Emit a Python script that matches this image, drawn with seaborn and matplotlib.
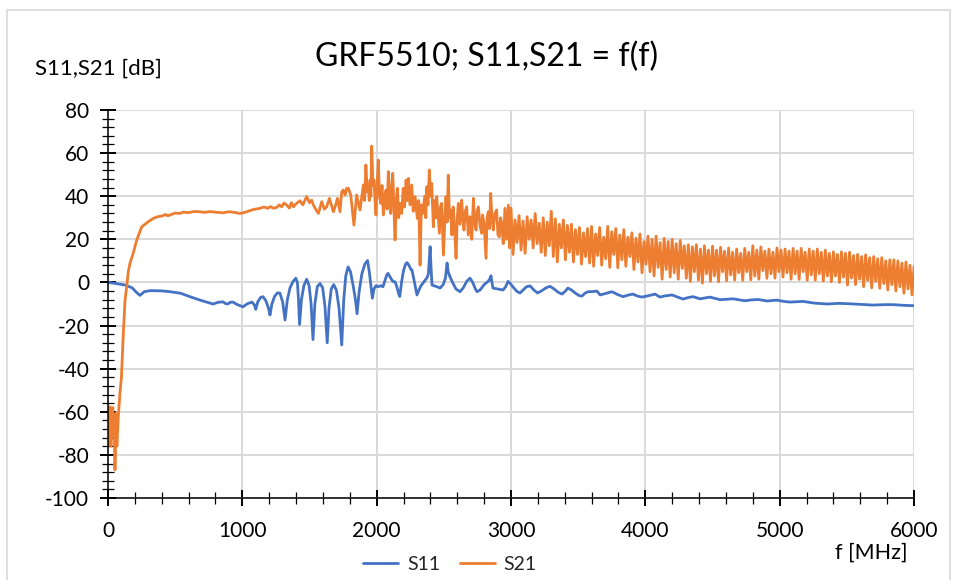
import matplotlib
matplotlib.use("Agg")
import numpy as np
import pandas as pd
import matplotlib.pyplot as plt
import seaborn as sns
from matplotlib.ticker import MultipleLocator
from matplotlib.patches import Rectangle
from matplotlib.lines import Line2D

TITLE = "GRF5510; S11,S21 = f(f)"
Y_LABEL = "S11,S21 [dB]"
X_LABEL = "f [MHz]"
SERIES = ["S11", "S21"]
COLORS = {"S11": "#4472C4", "S21": "#ED7D31"}

# ---- S11 ----
s11_freq = [0, 60, 127, 180, 210, 238, 270, 313, 400, 462, 540, 610, 685, 782, 820, 856,
            875, 893, 910, 930, 960, 1005, 1040, 1072, 1090, 1100, 1115, 1135, 1154, 1175,
            1195, 1206, 1220, 1240, 1262, 1280, 1300, 1318, 1335, 1355, 1378, 1398, 1410,
            1418, 1426, 1440, 1458, 1479, 1497, 1512, 1526, 1540, 1558, 1578, 1598, 1615,
            1632, 1645, 1662, 1680, 1700, 1720, 1740, 1755, 1770, 1787, 1805, 1825, 1842,
            1854, 1870, 1890, 1912, 1932, 1945, 1958, 1968, 1980, 1995, 2010, 2030, 2047,
            2060, 2075, 2085, 2100, 2120, 2137, 2150, 2165, 2172, 2185, 2200, 2215, 2226,
            2240, 2255, 2263, 2275, 2290, 2300, 2315, 2330, 2345, 2360, 2375, 2385, 2393,
            2398, 2404, 2412, 2440, 2472, 2495, 2512, 2520, 2524, 2532, 2546, 2565, 2590,
            2620, 2645, 2670, 2695, 2715, 2735, 2747, 2770, 2800, 2830, 2845, 2851, 2858,
            2866, 2900, 2941, 2960, 2978, 2995, 3020, 3045, 3067, 3090, 3115, 3142, 3170,
            3198, 3230, 3260, 3290, 3320, 3350, 3380, 3405, 3424, 3450, 3480, 3510, 3529,
            3550, 3574, 3600, 3640, 3663, 3700, 3752, 3790, 3834, 3870, 3908, 3940, 3975,
            4020, 4072, 4109, 4150, 4199, 4240, 4281, 4320, 4355, 4407, 4481, 4556, 4600,
            4653, 4700, 4742, 4790, 4839, 4906, 4980, 5030, 5077, 5174, 5260, 5353, 5440,
            5524, 5610, 5695, 5780, 5844, 5920, 6000]
s11_db = [0.0, -0.5, -1.2, -2.5, -4.5, -6.0, -4.3, -3.8, -3.9, -4.3, -5.0, -6.6, -8.2,
          -10.0, -9.2, -9.0, -9.8, -10.0, -9.2, -9.1, -10.2, -11.3, -9.8, -9.1, -10.5,
          -12.5, -9.0, -7.0, -6.6, -8.5, -12.0, -15.1, -10.0, -6.5, -4.8, -5.0, -9.0,
          -17.4, -8.0, -2.5, 0.5, 2.0, 0.0, -8.0, -19.5, -8.0, -1.5, 1.5, -1.5, -10.0,
          -26.5, -10.0, -2.0, -0.5, -2.5, -11.0, -28.0, -12.0, -3.0, -1.0, -3.5, -12.0,
          -29.0, -8.0, 3.0, 7.2, 5.0, -1.5, -8.0, -14.5, -4.0, 4.0, 8.5, 10.2, 5.0, -2.0,
          -7.3, -3.0, -1.5, -2.0, -1.5, -2.0, 0.5, 3.5, 4.2, 2.5, 0.5, 0.3, -2.0, -5.5,
          -6.5, 0.0, 5.5, 8.5, 9.2, 8.0, 6.0, 5.8, 2.0, -3.0, -5.8, -3.5, -1.5, -0.3, 1.0,
          2.2, 4.0, 12.0, 16.6, 8.0, -1.2, -1.8, -2.6, -1.0, 2.0, 7.0, 9.0, 5.0, 2.6, 0.0,
          -3.0, -4.3, -2.5, 0.5, 2.0, 0.0, -3.0, -4.3, -3.5, -1.0, 0.5, 2.0, 3.1, 0.0,
          -2.6, -3.0, -3.5, -2.0, 0.5, -0.5, -2.5, -4.2, -4.9, -3.5, -2.0, -1.6, -3.5,
          -4.9, -3.8, -2.5, -1.8, -3.0, -4.5, -5.4, -4.0, -2.6, -3.5, -5.0, -6.2, -6.3,
          -5.0, -4.3, -4.3, -4.0, -5.8, -5.2, -4.3, -5.5, -6.6, -5.9, -5.4, -6.3, -6.8,
          -6.2, -5.4, -6.8, -6.2, -5.8, -6.8, -7.7, -7.0, -6.6, -7.6, -6.8, -8.0, -7.8,
          -7.6, -8.1, -8.5, -8.1, -7.9, -8.6, -8.2, -8.8, -9.1, -8.8, -9.6, -10.0, -9.7,
          -9.9, -10.2, -10.5, -10.3, -10.3, -10.6, -10.8]

# ---- S21 low / mid frequency part ----
s21_lf_freq = [0, 8, 15, 22, 30, 36, 40, 46, 52, 58, 60, 66, 77, 89, 100, 114, 127,
               139, 151, 164, 188, 214, 251, 300, 337, 370, 400, 430, 445, 462, 500, 536,
               560, 600, 640, 685, 720, 760, 800, 858, 900, 930, 960, 983, 1010, 1033,
               1080, 1132, 1160, 1190, 1210, 1231, 1256, 1275, 1293, 1310, 1330,
               1350, 1365, 1380, 1400, 1429, 1450, 1479, 1500, 1516, 1529, 1546, 1566, 1591,
               1610, 1628, 1648, 1665, 1678, 1695, 1708, 1727, 1740, 1752, 1765, 1777,
               1789, 1807, 1831, 1851, 1876, 1901, 1910, 1920, 1930, 1938, 1945, 1951,
               1957, 1963, 1972, 1980, 1988, 1995, 2003, 2012, 2021, 2030, 2040, 2050,
               2060, 2070, 2078, 2087, 2096, 2105, 2112, 2120, 2128, 2137, 2146, 2154,
               2164, 2174, 2186, 2198, 2208, 2219, 2228, 2236, 2248, 2261, 2272, 2286,
               2295, 2303, 2313, 2323, 2333, 2343, 2358, 2366, 2373, 2382, 2392, 2400,
               2410, 2416, 2422, 2430, 2440, 2447, 2455, 2467, 2475, 2484, 2497, 2508,
               2516, 2525, 2533, 2542, 2551, 2560, 2570, 2580, 2591, 2600, 2608, 2620,
               2633, 2642, 2650, 2660, 2670, 2682, 2695, 2708, 2720, 2730, 2740, 2748,
               2757, 2770, 2782, 2788, 2800, 2814, 2822, 2831, 2840, 2849, 2858, 2868,
               2880, 2893, 2903, 2913, 2922, 2931, 2942, 2955, 2967, 2980, 2990]
s21_lf_db = [-60, -75, -57.7, -76, -62, -58, -71.6, -62, -87, -65, -60.6, -76, -62,
             -51.4, -44, -23.6, -8.2, -2, 5, 9, 13.6, 19.7, 25.8, 28.2, 29.7, 30.5, 30.8,
             31.5, 30.9, 31.3, 32.2, 32.0, 32.6, 32.4, 32.9, 32.8, 32.5, 32.9, 32.6, 32.3,
             32.8, 32.6, 32.3, 32.0, 32.4, 32.8, 33.8, 34.4, 35.0, 34.4, 35.2, 34.4, 34.8,
             36.0, 35.1, 36.8, 35.9, 34.5, 37.0, 35.1, 36.5, 37.9, 36.0, 39.8, 37.0, 38.2,
             35.9, 34.0, 32.0, 37.5, 34.0, 35.1, 39.0, 35.5, 32.8, 36.0, 39.0, 32.8, 42.0,
             42.9, 40.5, 43.7, 43.7, 40.6, 26.6, 40.6, 33.6, 45.2, 38.0, 54.5, 42.0, 45.2,
             38.0, 47.5, 40.0, 63.3, 45.0, 47.5, 38.0, 31.3, 45.0, 56.8, 40.0, 36.7, 45.0,
             31.3, 40.0, 42.9, 34.0, 51.4, 40.0, 32.0, 44.0, 50.6, 35.0, 19.7, 38.0, 43.7,
             30.0, 36.7, 32.0, 43.7, 35.0, 47.5, 38.0, 48.3, 36.0, 45.2, 33.0, 39.8, 34.0,
             29.7, 38.0, 8.0, 36.0, 32.0, 40.0, 30.0, 44.4, 36.0, 52.2, 40.0, 46.0, 36.0,
             25.8, 38.0, 30.0, 39.8, 33.0, 22.8, 35.0, 36.7, 12.7, 30.0, 39.8, 28.0, 49.8,
             30.0, 33.6, 22.0, 35.0, 25.1, 11.2, 30.0, 36.7, 27.0, 38.2, 29.0, 24.3, 33.0,
             35.1, 22.0, 30.5, 20.0, 39.0, 28.0, 24.3, 33.0, 35.1, 26.0, 22.8, 31.3, 27.0,
             11.2, 30.0, 32.8, 25.0, 41.3, 30.0, 24.3, 32.0, 33.6, 22.0, 21.2, 30.0, 27.4,
             18.0, 34.4, 20.0, 35.9, 16.0]

# ---- S21 high frequency part: sweep points every 15 MHz from 3000 to 6000 ----
s21_hf_freq = list(range(3000, 6001, 15))
s21_hf_db = [
    34.5, 13.0, 29.0, 18.5, 31.0, 15.0, 28.5, 13.5, 30.5, 20.0, 29.0, 16.0, 32.0, 18.0, 27.5, 14.0, 30.0, 12.5, 28.0, 17.0,
    33.0, 12.0, 29.5, 9.5, 27.0, 16.0, 29.0, 10.5, 26.5, 14.0, 27.0, 9.5, 24.5, 13.0, 25.5, 8.5, 23.0, 12.0, 25.0, 9.0,
    26.0, 7.5, 22.5, 12.5, 25.5, 8.0, 21.0, 11.0, 26.0, 7.0, 23.5, 13.0, 25.0, 6.8, 22.0, 10.5, 24.5, 7.5, 21.0, 12.0,
    23.0, 6.0, 20.5, 9.5, 22.5, 4.5, 19.0, 8.5, 21.5, 5.0, 20.0, 3.0, 21.5, 7.0, 18.5, 1.5, 20.5, 6.0, 19.0, 2.5,
    20.0, 4.5, 18.0, 1.5, 19.5, 6.5, 17.0, 2.0, 17.5, 0.5, 16.5, 5.0, 17.5, 1.0, 15.5, -0.3, 17.0, 4.0, 15.0, 0.5,
    16.8, 3.0, 15.0, 0.3, 16.3, 5.0, 14.5, 0.8, 16.0, 3.5, 14.0, 1.1, 15.5, 4.5, 13.5, 1.0, 15.8, 5.0, 14.0, 1.2,
    17.0, 3.0, 15.0, 1.5, 16.5, 5.5, 14.5, 1.9, 15.5, 4.0, 14.0, 2.0, 16.0, 5.0, 15.0, 2.5, 15.5, 4.5, 14.5, 1.5,
    15.8, 4.0, 14.5, 1.4, 15.8, 5.0, 14.0, 1.0, 15.5, 3.5, 14.5, 1.1, 15.5, 4.0, 14.0, 0.7, 15.0, 3.0, 13.5, 0.3,
    14.2, 3.0, 13.0, 0.0, 14.2, 2.5, 13.5, -1.2, 14.0, 2.0, 12.5, -1.0, 13.0, 1.5, 12.0, -2.0, 12.8, 1.0, 11.5, -2.5,
    12.0, 0.5, 11.0, -2.7, 11.5, -0.5, 10.0, -3.5, 10.5, -1.0, 10.5, -4.0, 10.0, -2.0, 9.0, -5.0, 9.5, -3.0, 8.0, -5.8,
    7.3]

X_MAJOR, X_MINOR = 1000, 200
Y_MAJOR, Y_MINOR = 20, 4

# ---- build data table ----
df = pd.concat([
    pd.DataFrame({"f": s11_freq, "dB": s11_db, "series": "S11"}),
    pd.DataFrame({"f": s21_lf_freq + s21_hf_freq, "dB": s21_lf_db + s21_hf_db, "series": "S21"}),
], ignore_index=True)

sns.set_style("white")
plt.rcParams["font.family"] = ["Lato", "DejaVu Sans"]
plt.rcParams["axes.unicode_minus"] = False

W, H = 957, 580
fig = plt.figure(figsize=(W / 100, H / 100), dpi=100)
ax = fig.add_axes([108 / W, 1 - 498 / H, (914 - 108) / W, (498 - 110) / H])

LW = 2.0
sns.lineplot(data=df, x="f", y="dB", hue="series", hue_order=SERIES, palette=COLORS,
             estimator=None, sort=False, linewidth=LW, legend=False, ax=ax)

ax.set_xlim(0, 6000)
ax.set_ylim(-100, 80)
ax.xaxis.set_major_locator(MultipleLocator(X_MAJOR))
ax.xaxis.set_minor_locator(MultipleLocator(X_MINOR))
ax.yaxis.set_major_locator(MultipleLocator(Y_MAJOR))
ax.yaxis.set_minor_locator(MultipleLocator(Y_MINOR))
ax.grid(True, which="major", color="#D9D9D9", linewidth=1.4)
ax.grid(False, which="minor")
ax.set_axisbelow(True)
for s in ("top", "right"):
    ax.spines[s].set_visible(False)
for s in ("left", "bottom"):
    ax.spines[s].set_color("black")
    ax.spines[s].set_linewidth(1.1)
ax.tick_params(which="both", bottom=True, left=True, top=False, right=False)
ax.tick_params(which="major", direction="inout", length=11, width=1.4, color="black",
               labelsize=15, labelcolor="black")
ax.tick_params(which="minor", direction="inout", length=8, width=0.9, color="black")
ax.tick_params(axis="x", which="major", pad=11)
ax.tick_params(axis="y", which="major", pad=8)
ax.set_xlabel("")
ax.set_ylabel("")

fig.text(487 / W, 1 - 57 / H, TITLE, ha="center", va="center", fontsize=23, color="black")
fig.text(35 / W, 1 - 69 / H, Y_LABEL, ha="left", va="center", fontsize=16, color="black")
fig.text(835 / W, 1 - 553 / H, X_LABEL, ha="left", va="center", fontsize=15.5, color="black")

handles = [Line2D([], [], color=COLORS[s], linewidth=LW) for s in SERIES]
fig.legend(handles, SERIES, loc="center", bbox_to_anchor=(450 / W, 1 - 564 / H),
           ncol=2, frameon=False, fontsize=14, handlelength=1.8, handletextpad=0.45,
           columnspacing=1.0)

fig.patches.append(Rectangle((7 / W, -0.05), (950 - 7) / W, 1.05 - 10 / H,
                             transform=fig.transFigure, fill=False,
                             edgecolor="#D9D9D9", linewidth=1.2))

fig.savefig("out.png", dpi=100)
